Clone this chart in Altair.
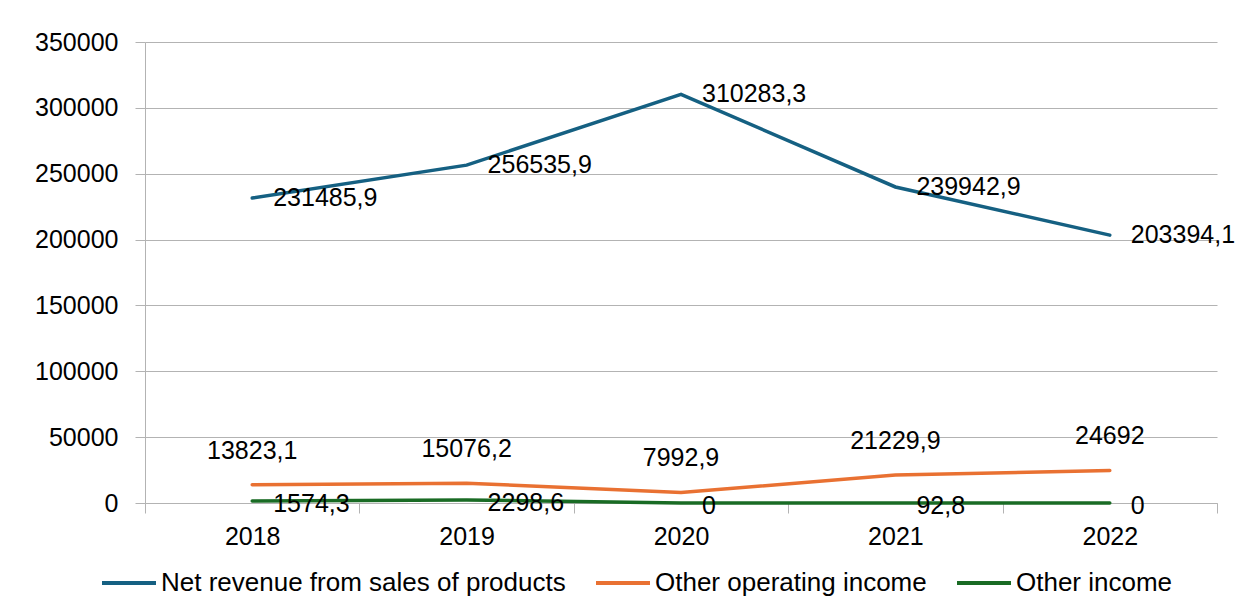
import altair as alt
import pandas as pd

years = ["2018", "2019", "2020", "2021", "2022"]
series_names = ["Net revenue from sales of products", "Other operating income", "Other income"]
net_revenue = [231485.9, 256535.9, 310283.3, 239942.9, 203394.1]
other_operating = [13823.1, 15076.2, 7992.9, 21229.9, 24692]
other_income = [1574.3, 2298.6, 0, 92.8, 0]
colors = ["#156082", "#E97132", "#196B24"]
y_ticks = [0, 50000, 100000, 150000, 200000, 250000, 300000, 350000]


def lab(v):
    return format(v, ".10g").replace(".", ",")


rows = []
for name, vals in zip(series_names, [net_revenue, other_operating, other_income]):
    for yr, v in zip(years, vals):
        rows.append({"year": yr, "series": name, "value": v, "label": lab(v)})
df = pd.DataFrame(rows)

FONT = "Liberation Sans"
FS_AX = 25
FS_LAB = 25
FS_LEG = 26
GRID = "#B3B3B3"

x_enc = alt.X(
    "year:O",
    scale=alt.Scale(type="band", paddingInner=0, paddingOuter=0),
    bandPosition=0.5,
    axis=alt.Axis(
        title=None, labelAngle=0, tickBand="extent", grid=False,
        domainColor=GRID, tickColor=GRID, tickSize=10, labelPadding=11,
        labelFont=FONT, labelFontSize=FS_AX, labelColor="black",
    ),
)
y_enc = alt.Y(
    "value:Q",
    scale=alt.Scale(domain=[0, 350000], nice=False),
    axis=alt.Axis(
        title=None, values=y_ticks, format="d", grid=True, gridColor=GRID,
        domainColor=GRID, tickColor=GRID, tickSize=10, labelPadding=17,
        labelFont=FONT, labelFontSize=FS_AX, labelColor="black",
    ),
)

base = alt.Chart(df)

lines = base.mark_line(strokeWidth=3.5, strokeCap="round").encode(
    x=x_enc,
    y=y_enc,
    color=alt.Color(
        "series:N",
        scale=alt.Scale(domain=series_names, range=colors),
        sort=series_names,
        legend=alt.Legend(
            title=None, orient="none", legendX=-45, legendY=512,
            direction="horizontal", symbolType="stroke", symbolSize=2916,
            symbolStrokeWidth=4, labelFont=FONT, labelFontSize=FS_LEG,
            labelColor="black", labelOffset=3, columnPadding=22, labelLimit=800,
        ),
    ),
)

text_common = dict(font=FONT, fontSize=FS_LAB, color="black", baseline="middle")

t_net = base.transform_filter(alt.datum.series == series_names[0]).mark_text(
    align="left", dx=21, dy=0, **text_common
).encode(x=x_enc, y=y_enc, text="label:N")

t_oper = base.transform_filter(alt.datum.series == series_names[1]).mark_text(
    align="center", dx=0, dy=-34, **text_common
).encode(x=x_enc, y=y_enc, text="label:N")

t_inc = base.transform_filter(alt.datum.series == series_names[2]).mark_text(
    align="left", dx=21, dy=3, **text_common
).encode(x=x_enc, y=y_enc, text="label:N")

chart = (
    alt.layer(lines, t_net, t_oper, t_inc)
    .properties(
        width=1072,
        height=461,
        autosize=alt.AutoSizeParams(type="none"),
        padding={"left": 137, "top": 34, "right": 18, "bottom": 100},
        background="white",
    )
    .configure_view(stroke=None)
)

chart.save("out.html", embed_options={"renderer": "svg", "actions": False})
